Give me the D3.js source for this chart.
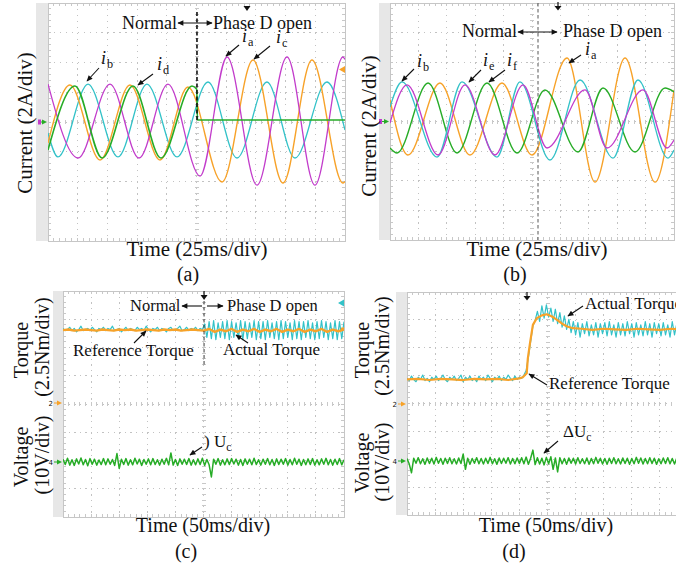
<!DOCTYPE html>
<html>
<head>
<meta charset="utf-8">
<script src="https://cdn.jsdelivr.net/npm/d3@7"></script>
<style>
  body { margin: 0; background: #fff; }
  svg text { font-family: "Liberation Serif", "Times New Roman", serif; fill: #111; }
</style>
</head>
<body>
<script>
'use strict';
// ---- data read off the scope shots ----
// (a) currents, time in ms (25ms/div), value in A (2A/div)
const aIaT = [0, 25.3, 52.2, 76.6, 101, 128, 150.7, 175.9, 201.2, 224.7, 248.3, 250];
const aIaV = [2.55, -2.42, 2.55, -2.42, 2.55, -3.63, 4.37, -4.24, 4.37, -4.24, 4.37, 4.2];
const aIcT = [0, 18.5, 43.8, 69, 94.3, 117.8, 146.5, 172.6, 197.8, 222.2, 248.3, 250];
const aIcV = [-1.41, 2.49, -2.55, 2.49, -2.55, 2.35, -4.03, 4.17, -4.1, 4.17, -4.1, -4.0];
const aIbT = [0, 8.4, 33.7, 58.9, 83.3, 108.6, 134.7, 159.1, 184.3, 207.9, 234.8, 250];
const aIbV = [-0.74, -2.35, 2.55, -2.35, 2.55, -2.35, 2.69, -2.42, 2.69, -2.42, 2.69, -0.54];
const aIdT = [0, 22.7, 45.5, 71.5, 95.1, 121.2, 125.2, 125.8, 250];
const aIdV = [-1.88, 2.42, -2.42, 2.42, -2.42, 2.42, 2.2, 0.13, 0.13];

// (b) currents
const bIaT = [0, 15.8, 44, 70.4, 98.6, 125, 155.8, 180.5, 206.9, 233.3, 250];
const bIaV = [1.45, -2.26, 2.6, -2.26, 2.6, -2.26, 4.29, -4.09, 4.29, -4.09, 2.13];
const bIbT = [0, 10.6, 41.4, 63.4, 94.2, 114.4, 140.8, 167.3, 196.3, 218.3, 244.7, 250];
const bIbV = [0.98, 2.67, -2.4, 2.67, -2.4, 2.67, -2.6, 2.8, -2.47, 2.8, -2.47, -1.93];
const bIeT = [0, 15, 42.3, 66, 92.4, 117.1, 138.2, 171.7, 191, 222.7, 243.8, 250];
const bIeV = [-0.1, 2.47, -2.26, 2.47, -2.26, 2.47, -1.79, 2.13, -1.79, 2.13, -1.79, -1.25];
const bIfT = [0, 6.2, 33.5, 59, 85.4, 111.8, 136.4, 165.5, 187.5, 215.7, 242.1, 250];
const bIfV = [-1.79, -2.13, 2.6, -2.13, 2.6, -2.13, 2.13, -2.06, 2.26, -2.06, 2.26, 2.0];

// (c) torque (Nm) and capacitor voltage (V), one sample per 4 ms, 50ms/div
const cStep = 4;
const cTorqueAct = [
  6.6, 6.4, 6.5, 6.7, 6.4, 6.6, 6.3, 6.5, 6.8, 6.4,
  6.5, 6.6, 6.4, 6.7, 6.5, 6.3, 6.6, 6.5, 6.7, 6.4,
  6.6, 6.5, 6.8, 6.4, 6.5, 6.6, 6.3, 6.5, 6.7, 6.4,
  6.6, 6.5, 6.4, 6.7, 6.5, 6.6, 6.4, 6.8, 6.5, 6.3,
  6.6, 6.5, 6.7, 6.4, 6.6, 6.5, 6.3, 6.6, 6.7, 6.4,
  6.5, 6.6, 6.8, 6.4, 6.5, 6.7, 6.4, 6.6, 6.5, 6.7,
  6.4, 6.6, 6.5,
  7.0, 5.8, 7.2, 5.7, 7.3, 5.6, 7.1, 5.8, 7.2, 5.7,
  7.3, 5.6, 7.2, 5.8, 7.1, 5.7, 7.3, 5.6, 7.2, 5.7,
  7.1, 5.8, 7.3, 5.6, 7.2, 5.7, 7.2, 5.6, 7.3, 5.8,
  7.1, 5.7, 7.2, 5.6, 7.3, 5.7, 7.2, 5.8, 7.1, 5.6,
  7.3, 5.7, 7.2, 5.6, 7.2, 5.8, 7.3, 5.7, 7.1, 5.6,
  7.2, 5.7, 7.3, 5.8, 7.2, 5.6, 7.1, 5.7, 7.3, 5.6,
  7.2, 5.7, 7.2
];
const cRefStep = 10;
const cTorqueRef = [
  6.45, 6.5, 6.4, 6.45, 6.5, 6.45, 6.4, 6.5, 6.45, 6.4,
  6.5, 6.45, 6.5, 6.4, 6.45, 6.5, 6.45, 6.4, 6.5, 6.45,
  6.5, 6.4, 6.45, 6.5, 6.45, 6.4,
  6.55, 6.3, 6.5, 6.35, 6.55, 6.3, 6.5, 6.35, 6.55, 6.3,
  6.5, 6.35, 6.55, 6.3, 6.5, 6.35, 6.55, 6.3, 6.5, 6.35,
  6.55, 6.3, 6.5, 6.35, 6.5
];
const cVolt = [
  1.0, -0.9, 1.3, -1.1, 0.8, -1.2, 1.1, -0.7, 1.4, -1.0,
  0.9, -1.3, 1.2, -0.8, 1.0, -1.1, 0.7, -0.9, 1.2, -1.0,
  1.1, -0.8, 0.9, -1.2, 3.0, -2.3, 1.0, -0.9, 1.2, -1.1,
  0.8, -1.0, 1.3, -0.7, 1.0, -1.2, 0.9, -0.8, 1.1, -1.0,
  1.2, -0.9, 0.8, -1.1, 1.0, -0.8, 1.3, -1.0, 3.2, -1.1,
  0.9, -1.2, 1.1, -0.8, 1.0, -0.9, 1.2, -1.1, 0.8, -1.0,
  1.1, -0.9, 1.3, -1.2, 0.9, -1.0, -5.3, 1.0, -0.8, 1.2,
  -1.1, 0.8, -1.0, 1.1, -0.9, 1.2, -0.7, 1.0, -1.1, 0.9,
  -1.2, 1.1, -0.8, 1.0, -1.0, 1.3, -0.9, 0.8, -1.1, 1.0,
  -0.8, 1.2, -1.0, 0.9, -1.2, 1.1, -0.9, 1.0, -0.8, 1.2,
  -1.1, 0.9, -1.0, 1.3, -0.8, 1.0, -1.2, 0.9, -1.0, 1.1,
  -0.9, 1.2, -1.1, 0.8, -1.0, 1.1, -0.8, 1.3, -1.0, 0.9,
  -1.1, 1.0, -0.9, 1.2, -1.0, 0.8
];

// (d) torque step and voltage, 4 ms per sample
const dStep = 4;
const dTorqueAct = [
  2.3, 2.1, 2.5, 2.2, 2.0, 2.4, 2.2, 2.6, 2.1, 2.3,
  2.0, 2.4, 2.2, 2.5, 2.1, 2.3, 2.6, 2.2, 2.0, 2.4,
  2.2, 2.5, 2.1, 2.3, 2.6, 2.0, 2.4, 2.2, 2.5, 2.1,
  2.3, 2.0, 2.5, 2.2, 2.4, 2.1, 2.6, 2.3, 2.0, 2.4,
  2.2, 2.5, 2.1, 2.4, 2.2, 2.6, 2.3, 2.1, 2.5, 2.2,
  2.4, 2.3, 2.6, 3.0, 4.2, 5.6, 7.0, 7.5, 8.3, 7.4,
  8.8, 7.7, 8.9, 7.8, 8.6, 7.4, 8.5, 7.2, 8.2, 6.9,
  7.9, 6.7, 7.6, 6.4, 7.4,
  6.2, 7.3, 6.0, 7.2, 6.3, 7.4, 6.1, 7.1, 6.2, 7.3,
  6.0, 7.2, 6.3, 7.3, 6.1, 7.4, 6.2, 7.1, 6.0, 7.3,
  6.2, 7.2, 6.1, 7.4, 6.3, 7.2, 6.0, 7.3, 6.2, 7.1,
  6.1, 7.4, 6.2, 7.2, 6.0, 7.3, 6.3, 7.2, 6.1, 7.3,
  6.2, 7.1, 6.0, 7.4, 6.2, 7.2
];
const dRefT = [0, 20, 40, 60, 80, 100, 120, 140, 160, 180, 200, 206, 213, 215, 219, 224, 231, 240, 249, 258,
  267, 276, 285, 295, 310, 330, 350, 370, 390, 410, 430, 450, 470, 480];
const dRefV = [2.2, 2.25, 2.15, 2.25, 2.2, 2.15, 2.25, 2.2, 2.25, 2.15, 2.3, 2.4, 2.75, 4.1, 5.5, 7.1, 7.7, 7.95, 8.05, 7.85,
  7.55, 7.2, 6.95, 6.8, 6.75, 6.65, 6.75, 6.7, 6.65, 6.75, 6.7, 6.65, 6.75, 6.7];
const dVolt = [
  0.9, -1.1, -4.2, 1.0, -0.8, 1.2, -1.0, 0.8, -1.2, 1.1,
  -0.9, 1.0, -1.1, 1.3, -0.8, 0.9, -1.2, 1.0, -0.9, 1.2,
  -1.0, 0.8, -1.1, 1.1, -0.9, 2.5, -3.0, 1.0, -1.2, 0.9,
  -0.8, 1.2, -1.0, 0.9, -1.1, 1.0, -0.9, 1.3, -1.0, 0.8,
  -1.2, 1.1, -0.9, 1.0, -0.8, 1.2, -1.1, 0.9, -1.0, 1.1,
  -0.9, 1.2, -1.0, 1.4, -1.2, 1.0, 3.9, -1.3, 1.2, -1.1,
  1.0, -1.4, 1.3, -1.0, 1.5, -3.0, 1.1, -3.9, 1.2, -1.0,
  0.9, -1.2, 1.1, -0.8, 1.0, -1.1, 1.2, -0.9, 0.8, -1.0,
  1.1, -1.2, 0.9, -1.0, 1.3, -0.8, 1.0, -1.1, 0.9, -1.2,
  1.0, -0.9, 1.2, -1.0, 0.8, -1.1, 1.1, -0.9, 1.0, -1.2,
  0.9, -1.0, 1.3, -0.8, 1.1, -1.1, 0.9, -1.0, 1.2, -0.9,
  1.0, -1.2, 0.8, -1.0, 1.1, -0.9, 1.2, -1.0, 0.9, -1.1, 1.0
];

// ---- layout ----
const SERIF = '"Liberation Serif", "Times New Roman", serif';
const ORANGE = '#f7a229', CYAN = '#33c2c8', MAGENTA = '#c23ccb', GREEN = '#27ac27';
const panels = {
  a: { left: 48, right: 345, top: 3, bottom: 241, strip: 36, tMax: 250 },
  b: { left: 390, right: 674, top: 3, bottom: 240, strip: 379, tMax: 250 },
  c: { left: 63, right: 344, top: 291, bottom: 517, strip: 53, tMax: 500, zeroT: 403, zeroV: 462 },
  d: { left: 407, right: 688, top: 292, bottom: 515, strip: 396, tMax: 500, zeroT: 404, zeroV: 461 }
};

const svg = d3.select('body').append('svg')
  .attr('width', 676).attr('height', 566)
  .attr('font-family', SERIF)
  .style('display', 'block');
const defs = svg.append('defs');
defs.append('marker')
  .attr('id', 'ah').attr('viewBox', '0 0 10 10')
  .attr('refX', 9).attr('refY', 5)
  .attr('markerWidth', 7).attr('markerHeight', 6)
  .attr('markerUnits', 'userSpaceOnUse')
  .attr('orient', 'auto-start-reverse')
  .append('path').attr('d', 'M0,0.5 L10,5 L0,9.5 z').attr('fill', '#111');

function drawFrame(key) {
  const p = panels[key];
  const divX = (p.right - p.left) / 10, divY = (p.bottom - p.top) / 8;
  svg.append('rect')
    .attr('x', p.strip).attr('y', p.top)
    .attr('width', p.left - p.strip).attr('height', p.bottom - p.top)
    .attr('fill', '#e7e7e7');
  const g = svg.append('g').attr('shape-rendering', 'crispEdges');
  const gx = d3.scaleLinear().domain([0, 10]).range([p.left, p.right]);
  const gy = d3.scaleLinear().domain([0, 8]).range([p.top, p.bottom]);
  g.selectAll(null).data(d3.range(1, 10)).enter().append('line')
    .attr('x1', d => gx(d)).attr('x2', d => gx(d))
    .attr('y1', p.top).attr('y2', p.bottom)
    .attr('stroke', '#c2c2c2').attr('stroke-dasharray', '1.3,' + (divY / 5 - 1.3));
  g.selectAll(null).data(d3.range(1, 8)).enter().append('line')
    .attr('y1', d => gy(d)).attr('y2', d => gy(d))
    .attr('x1', p.left).attr('x2', p.right)
    .attr('stroke', '#c2c2c2').attr('stroke-dasharray', '1.3,' + (divX / 5 - 1.3));
  // minor ticks on the border and on the centre cross
  const mx = d3.range(1, 50).map(d => p.left + d * divX / 5);
  const my = d3.range(1, 40).map(d => p.top + d * divY / 5);
  const ticks = [];
  mx.forEach(x => {
    ticks.push([x, p.top, x, p.top + 3]);
    ticks.push([x, p.bottom - 3, x, p.bottom]);
    ticks.push([x, gy(4) - 2, x, gy(4) + 2]);
  });
  my.forEach(y => {
    ticks.push([p.left, y, p.left + 3, y]);
    ticks.push([p.right - 3, y, p.right, y]);
    ticks.push([gx(5) - 2, y, gx(5) + 2, y]);
  });
  g.selectAll(null).data(ticks).enter().append('line')
    .attr('x1', d => d[0]).attr('y1', d => d[1]).attr('x2', d => d[2]).attr('y2', d => d[3])
    .attr('stroke', '#c8c8c8');
  g.append('rect')
    .attr('x', p.left).attr('y', p.top)
    .attr('width', p.right - p.left).attr('height', p.bottom - p.top)
    .attr('fill', 'none').attr('stroke', '#c6c6c6');
  defs.append('clipPath').attr('id', 'clip-' + key)
    .append('rect').attr('x', p.left).attr('y', p.top)
    .attr('width', p.right - p.left).attr('height', p.bottom - p.top);
  return svg.append('g').attr('clip-path', 'url(#clip-' + key + ')');
}

function trace(g, x, y, ts, vs, color, width, curve) {
  const line = d3.line().x(d => x(d[0])).y(d => y(d[1])).curve(curve || d3.curveLinear);
  g.append('path').datum(d3.zip(ts, vs))
    .attr('d', line).attr('fill', 'none')
    .attr('stroke', color).attr('stroke-width', width)
    .attr('stroke-linejoin', 'round');
}

function sampled(step, vs) { return vs.map((v, i) => i * step); }

function text(x, y, str, size, anchor) {
  return svg.append('text').attr('x', x).attr('y', y)
    .attr('text-anchor', anchor || 'start')
    .style('font-family', SERIF)
    .style('font-size', size + 'px').text(str);
}

function vtext(x, y, str, size) {
  return svg.append('text')
    .attr('transform', 'translate(' + x + ',' + y + ') rotate(-90)')
    .attr('text-anchor', 'middle')
    .style('font-family', SERIF)
    .style('font-size', size + 'px').text(str);
}

function subLabel(x, y, main, sub, size, italic) {
  const t = svg.append('text').attr('x', x).attr('y', y)
    .style('font-family', SERIF).style('font-size', size + 'px');
  t.append('tspan').text(main).style('font-style', italic ? 'italic' : 'normal');
  t.append('tspan').text(sub).attr('dx', italic ? 1 : 0).attr('dy', size * 0.22).style('font-size', (size * 0.68) + 'px');
}

function arrow(x1, y1, x2, y2, both) {
  const l = svg.append('line').attr('x1', x1).attr('y1', y1).attr('x2', x2).attr('y2', y2)
    .attr('stroke', '#111').attr('stroke-width', 1.1).attr('marker-end', 'url(#ah)');
  if (both) l.attr('marker-start', 'url(#ah)');
}

function zeroMark(x, y, color, label) {
  svg.append('path').attr('d', 'M' + (x - 5) + ',' + (y - 2.5) + 'L' + x + ',' + y + 'L' + (x - 5) + ',' + (y + 2.5) + 'z')
    .attr('fill', color);
  svg.append('line').attr('x1', x - 8).attr('x2', x - 4).attr('y1', y).attr('y2', y)
    .attr('stroke', color).attr('stroke-width', 1);
  if (label) svg.append('text').attr('x', x - 9).attr('y', y + 2.5).attr('text-anchor', 'end')
    .style('font-size', '7px').style('font-family', 'DejaVu Sans').attr('fill', color).text(label);
}

// ---- panel (a) ----
{
  const p = panels.a;
  const g = drawFrame('a');
  const x = d3.scaleLinear().domain([0, p.tMax]).range([p.left, p.right]);
  const y = d3.scaleLinear().domain([-8, 8]).range([p.bottom, p.top]);
  trace(g, x, y, aIbT, aIbV, CYAN, 1.3, d3.curveMonotoneX);
  trace(g, x, y, aIcT, aIcV, ORANGE, 1.4, d3.curveMonotoneX);
  trace(g, x, y, aIaT, aIaV, MAGENTA, 1.3, d3.curveMonotoneX);
  trace(g, x, y, aIdT, aIdV, GREEN, 1.6, d3.curveMonotoneX);
  svg.append('line').attr('x1', x(125.4)).attr('x2', x(125.4)).attr('y1', 12).attr('y2', y(0))
    .attr('stroke', '#111').attr('stroke-width', 1.6).attr('stroke-dasharray', '4,2.5');
  svg.append('path').attr('d', 'M243.5,6 L250.5,6 L247,11 z').attr('fill', '#111');
  svg.append('path').attr('d', 'M345,66 L339,69.5 L345,73 z').attr('fill', ORANGE);
  zeroMark(47, y(0), GREEN, '');
  svg.append('rect').attr('x', 38).attr('y', y(0) - 2.5).attr('width', 3).attr('height', 5).attr('fill', MAGENTA);

  text(122, 29, 'Normal', 18);
  arrow(178, 23, 212, 23, true);
  text(213, 29, 'Phase D open', 18);
  subLabel(242, 42, 'i', 'a', 18, true);
  subLabel(276, 43, 'i', 'c', 18, true);
  subLabel(101, 64, 'i', 'b', 18, true);
  subLabel(157, 70, 'i', 'd', 18, true);
  arrow(239, 45, 226, 56);
  arrow(270, 46, 254, 59);
  arrow(99, 68, 87, 81);
  arrow(153, 74, 138, 85);

  vtext(32, 123, 'Current (2A/div)', 21);
  text(197, 256, 'Time (25ms/div)', 21, 'middle');
  text(188, 281, '(a)', 20, 'middle');
}

// ---- panel (b) ----
{
  const p = panels.b;
  const g = drawFrame('b');
  const x = d3.scaleLinear().domain([0, p.tMax]).range([p.left, p.right]);
  const y = d3.scaleLinear().domain([-8, 8]).range([p.bottom, p.top]);
  trace(g, x, y, bIaT, bIaV, ORANGE, 1.4, d3.curveMonotoneX);
  trace(g, x, y, bIfT, bIfV, GREEN, 1.4, d3.curveMonotoneX);
  trace(g, x, y, bIbT, bIbV, CYAN, 1.3, d3.curveMonotoneX);
  trace(g, x, y, bIeT, bIeV, MAGENTA, 1.3, d3.curveMonotoneX);
  svg.append('line').attr('x1', 538).attr('x2', 538).attr('y1', p.top).attr('y2', p.bottom)
    .attr('stroke', '#444').attr('stroke-width', 0.9).attr('stroke-dasharray', '3.5,2.5');
  svg.append('line').attr('x1', 558).attr('x2', 558).attr('y1', 2).attr('y2', 8)
    .attr('stroke', '#111').attr('stroke-width', 1.2);
  svg.append('path').attr('d', 'M554.5,6 L561.5,6 L558,10.5 z').attr('fill', '#111');
  zeroMark(389, y(0), GREEN, '');
  svg.append('rect').attr('x', 379).attr('y', y(0) - 2.5).attr('width', 3).attr('height', 5).attr('fill', MAGENTA);

  text(462, 37, 'Normal', 18);
  arrow(518, 32, 557, 32, true);
  text(563, 37, 'Phase D open', 18);
  subLabel(585, 55, 'i', 'a', 18, true);
  subLabel(417, 67, 'i', 'b', 18, true);
  subLabel(483, 66, 'i', 'e', 18, true);
  subLabel(507, 66, 'i', 'f', 18, true);
  arrow(581, 55, 569, 63);
  arrow(414, 69, 402, 81);
  arrow(481, 70, 469, 82);
  arrow(505, 70, 489, 82);

  vtext(376, 126, 'Current (2A/div)', 21);
  text(537, 256, 'Time (25ms/div)', 21, 'middle');
  text(515, 281, '(b)', 20, 'middle');
}

// ---- panel (c) ----
{
  const p = panels.c;
  const g = drawFrame('c');
  const div = (p.bottom - p.top) / 8;
  const x = d3.scaleLinear().domain([0, p.tMax]).range([p.left, p.right]);
  const yT = d3.scaleLinear().domain([0, 2.5]).range([p.zeroT, p.zeroT - div]);
  const yV = d3.scaleLinear().domain([0, 10]).range([p.zeroV, p.zeroV - div]);
  trace(g, x, yT, sampled(cStep, cTorqueAct), cTorqueAct, CYAN, 1.2);
  trace(g, x, yT, sampled(cRefStep, cTorqueRef), cTorqueRef, ORANGE, 2.4);
  trace(g, x, yV, sampled(cStep, cVolt), cVolt, GREEN, 1.5);
  svg.append('line').attr('x1', x(251)).attr('x2', x(251)).attr('y1', 301).attr('y2', 365)
    .attr('stroke', '#222').attr('stroke-width', 0.9).attr('stroke-dasharray', '3.5,2.5');
  svg.append('line').attr('x1', x(251)).attr('x2', x(251)).attr('y1', 291).attr('y2', 297)
    .attr('stroke', '#111').attr('stroke-width', 1.2);
  svg.append('path').attr('d', 'M' + (x(251) - 3.5) + ',295 L' + (x(251) + 3.5) + ',295 L' + x(251) + ',300 z').attr('fill', '#111');
  svg.append('path').attr('d', 'M344,299.5 L338,303 L344,306.5 z').attr('fill', CYAN);
  svg.append('rect').attr('x', 341).attr('y', 327.5).attr('width', 3).attr('height', 3).attr('fill', ORANGE);
  zeroMark(62, p.zeroT, ORANGE, '2');
  zeroMark(62, p.zeroV, GREEN, '4');

  text(130, 311, 'Normal', 16.5);
  arrow(202, 306, 182, 306);
  arrow(207, 306, 223, 306);
  text(227, 311, 'Phase D open', 16.5);
  text(73, 356, 'Reference Torque', 17);
  arrow(134, 343, 146, 331);
  text(223, 355, 'Actual Torque', 17);
  arrow(248, 343, 236, 335);
  subLabel(204, 447, ') U', 'c', 17, false);
  arrow(202, 447, 190, 455);

  vtext(28, 350, 'Torque', 20);
  vtext(49, 347, '(2.5Nm/div)', 20);
  vtext(28, 457, 'Voltage', 20);
  vtext(49, 455, '(10V/div)', 20);
  text(203, 532, 'Time (50ms/div)', 20, 'middle');
  text(186, 558, '(c)', 20, 'middle');
}

// ---- panel (d) ----
{
  const p = panels.d;
  const g = drawFrame('d');
  const div = (p.bottom - p.top) / 8;
  const x = d3.scaleLinear().domain([0, p.tMax]).range([p.left, p.right]);
  const yT = d3.scaleLinear().domain([0, 2.5]).range([p.zeroT, p.zeroT - div]);
  const yV = d3.scaleLinear().domain([0, 10]).range([p.zeroV, p.zeroV - div]);
  trace(g, x, yT, sampled(dStep, dTorqueAct), dTorqueAct, CYAN, 1.2);
  trace(g, x, yT, dRefT, dRefV, ORANGE, 2.2);
  trace(g, x, yV, sampled(dStep, dVolt), dVolt, GREEN, 1.5);
  svg.append('line').attr('x1', 527).attr('x2', 527).attr('y1', 292).attr('y2', 298)
    .attr('stroke', '#111').attr('stroke-width', 1.2);
  svg.append('path').attr('d', 'M523.5,296 L530.5,296 L527,300.5 z').attr('fill', '#111');
  zeroMark(406, p.zeroT, ORANGE, '2');
  zeroMark(406, p.zeroV, GREEN, '4');

  // the reference crops this label at the right edge of the figure
  text(585, 309, 'Actual Torque', 17);
  arrow(583, 306, 568, 316);
  text(549, 389, 'Reference Torque', 17);
  arrow(547, 385, 529, 374);
  subLabel(563, 437, '\u0394U', 'c', 17, false);
  arrow(558, 441, 544, 453);

  vtext(369, 350, 'Torque', 20);
  vtext(389, 346, '(2.5Nm/div)', 20);
  vtext(369, 463, 'Voltage', 20);
  vtext(389, 462, '(10V/div)', 20);
  text(546, 532, 'Time (50ms/div)', 20, 'middle');
  text(514, 558, '(d)', 20, 'middle');
}
</script>
</body>
</html>
